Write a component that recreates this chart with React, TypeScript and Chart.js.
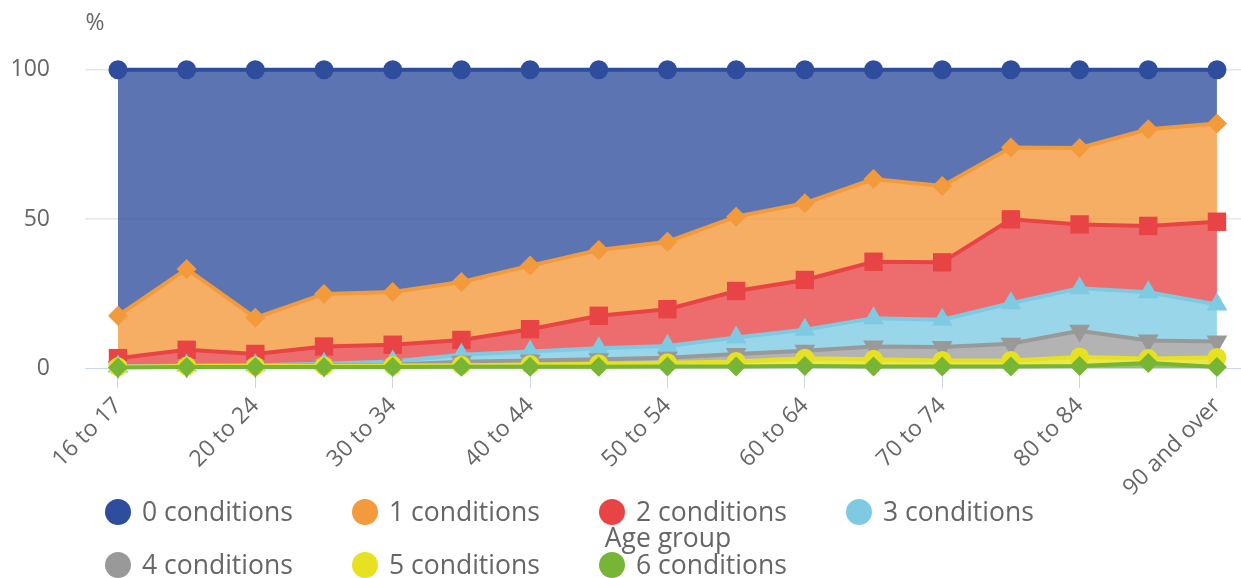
import React, { useEffect, useRef } from "react";
import { Chart, registerables } from "chart.js";

Chart.register(...registerables);

const categories = [
  "16 to 17", "18 to 19", "20 to 24", "25 to 29", "30 to 34", "35 to 39",
  "40 to 44", "45 to 49", "50 to 54", "55 to 59", "60 to 64", "65 to 69",
  "70 to 74", "75 to 79", "80 to 84", "85 to 89", "90 and over",
];

const seriesNames = [
  "0 conditions", "1 conditions", "2 conditions", "3 conditions",
  "4 conditions", "5 conditions", "6 conditions",
];

// cumulative shares (%) as plotted
const zeroConditions = [100, 100, 100, 100, 100, 100, 100, 100, 100, 100, 100, 100, 100, 100, 100, 100, 100];
const oneCondition = [17.6, 33.3, 16.9, 24.9, 25.6, 28.9, 34.4, 39.6, 42.4, 50.8, 55.3, 63.4, 61.1, 74.0, 73.8, 80.1, 82.0];
const twoConditions = [3.4, 6.2, 4.8, 7.3, 7.9, 9.5, 13.1, 17.6, 19.8, 25.9, 29.6, 35.7, 35.5, 49.9, 48.2, 47.7, 49.1];
const threeConditions = [0.6, 0.9, 1.0, 1.5, 2.3, 4.5, 5.6, 6.7, 7.5, 10.3, 12.9, 16.8, 16.3, 21.8, 26.8, 25.5, 21.4];
const fourConditions = [0.4, 0.6, 0.7, 0.9, 1.2, 2.2, 2.6, 3.0, 3.5, 4.8, 5.9, 7.3, 7.1, 8.2, 12.6, 9.3, 9.0];
const fiveConditions = [0.5, 0.8, 0.8, 0.8, 0.9, 1.0, 1.3, 1.5, 1.9, 2.3, 3.4, 3.0, 2.6, 2.6, 3.8, 3.3, 3.6];
const sixConditions = [0.3, 0.4, 0.4, 0.4, 0.4, 0.5, 0.5, 0.5, 0.6, 0.6, 0.8, 0.6, 0.6, 0.6, 0.8, 1.8, 0.4];

const yTicks = [0, 50, 100];
const yUnit = "%";
const xTitle = "Age group";

const seriesValues = [
  zeroConditions, oneCondition, twoConditions, threeConditions,
  fourConditions, fiveConditions, sixConditions,
];

const lineColors = ["#2e4d9c", "#f39a3c", "#e84445", "#7ecae3", "#999999", "#e6e222", "#76b536"];
const fillColors = [
  "rgba(46,77,156,0.78)", "rgba(243,154,60,0.8)", "rgba(232,68,69,0.78)",
  "rgba(126,202,227,0.78)", "rgba(153,153,153,0.75)", "rgba(230,226,34,0.8)",
  "rgba(118,181,54,0.8)",
];
const pointStyles = ["circle", "rectRot", "rect", "triangle", "triangle", "circle", "rectRot"];
const pointRadii = [9.5, 10, 13, 12, 12, 9.5, 10];
const pointRotations = [0, 0, 0, 0, 180, 0, 0];

const FONT = "'Open Sans', 'Noto Sans', sans-serif";
const TEXT = "#666666";

const overlayPlugin = {
  id: "overlay",
  afterDraw(chart: any) {
    const { ctx } = chart;
    ctx.save();
    // unit label
    ctx.fillStyle = TEXT;
    ctx.font = `23px ${FONT}`;
    ctx.textAlign = "center";
    ctx.textBaseline = "middle";
    ctx.fillText(yUnit, 95, 23);

    // legend
    const startX = 118;
    const colW = 247;
    const rowY = [512, 565];
    ctx.font = `26.5px ${FONT}`;
    ctx.textAlign = "left";
    seriesNames.forEach((name, i) => {
      const col = i % 4;
      const row = Math.floor(i / 4);
      const cx = startX + col * colW;
      const cy = rowY[row];
      ctx.fillStyle = lineColors[i];
      ctx.beginPath();
      ctx.arc(cx, cy, 13, 0, Math.PI * 2);
      ctx.fill();
      ctx.fillStyle = TEXT;
      ctx.fillText(name, cx + 24, cy + 1);
    });

    // x axis title
    ctx.textAlign = "center";
    ctx.fillText(xTitle, 668, 539);
    ctx.restore();
  },
};

export default function App() {
  const ref = useRef<HTMLCanvasElement | null>(null);

  useEffect(() => {
    if (!ref.current) return;
    const datasets = seriesValues.map((vals, i) => ({
      label: seriesNames[i],
      data: vals.map((v, j) => ({ x: j, y: v })),
      borderColor: lineColors[i],
      backgroundColor: fillColors[i],
      borderWidth: 4,
      pointStyle: pointStyles[i],
      pointRadius: pointRadii[i],
      pointRotation: pointRotations[i],
      pointBackgroundColor: lineColors[i],
      pointBorderColor: lineColors[i],
      pointBorderWidth: 0,
      fill: i < seriesValues.length - 1 ? "+1" : "origin",
      tension: 0,
      clip: false,
      order: seriesValues.length - i,
    }));

    const chart = new Chart(ref.current, {
      type: "line",
      data: { datasets },
      plugins: [overlayPlugin],
      options: {
        animation: false,
        responsive: false,
        maintainAspectRatio: false,
        layout: { autoPadding: false, padding: { top: 69.8, left: 0, right: 0, bottom: 0 } },
        plugins: {
          legend: { display: false },
          tooltip: { enabled: false },
          title: { display: false },
        },
        scales: {
          x: {
            type: "linear",
            min: -0.48,
            max: 16.35,
            afterFit: (s: any) => {
              s.height = 209.7;
              s.paddingLeft = 0;
              s.paddingRight = 0;
            },
            grid: {
              display: true,
              drawOnChartArea: false,
              drawTicks: true,
              tickLength: 20,
              tickColor: "#ccd6eb",
              tickWidth: 1,
            },
            border: { display: true, color: "#ccd6eb", width: 1 },
            ticks: {
              stepSize: 2,
              includeBounds: false,
              autoSkip: false,
              maxRotation: 45,
              minRotation: 45,
              padding: 4,
              color: TEXT,
              font: { family: FONT, size: 23 },
              callback: (v: any) => {
                const idx = Math.round(Number(v));
                return Math.abs(idx - Number(v)) < 1e-6 ? categories[idx] ?? "" : "";
              },
            },
          },
          y: {
            min: 0,
            max: 100,
            afterFit: (s: any) => {
              s.width = 85;
            },
            afterBuildTicks: (s: any) => {
              s.ticks = yTicks.map((v) => ({ value: v }));
            },
            grid: {
              drawTicks: false,
              color: (c: any) => (c.tick && c.tick.value === 0 ? "rgba(0,0,0,0)" : "#e6e6e6"),
              lineWidth: 1.5,
            },
            border: { display: false },
            ticks: {
              padding: 35,
              color: TEXT,
              font: { family: FONT, size: 23 },
            },
          },
        },
      },
    });
    return () => chart.destroy();
  }, []);

  return (
    <div style={{ position: "absolute", left: 0, top: 0, width: 1241, height: 578, background: "#fff" }}>
      <canvas ref={ref} width={1241} height={578} style={{ width: 1241, height: 578, display: "block" }} />
    </div>
  );
}
